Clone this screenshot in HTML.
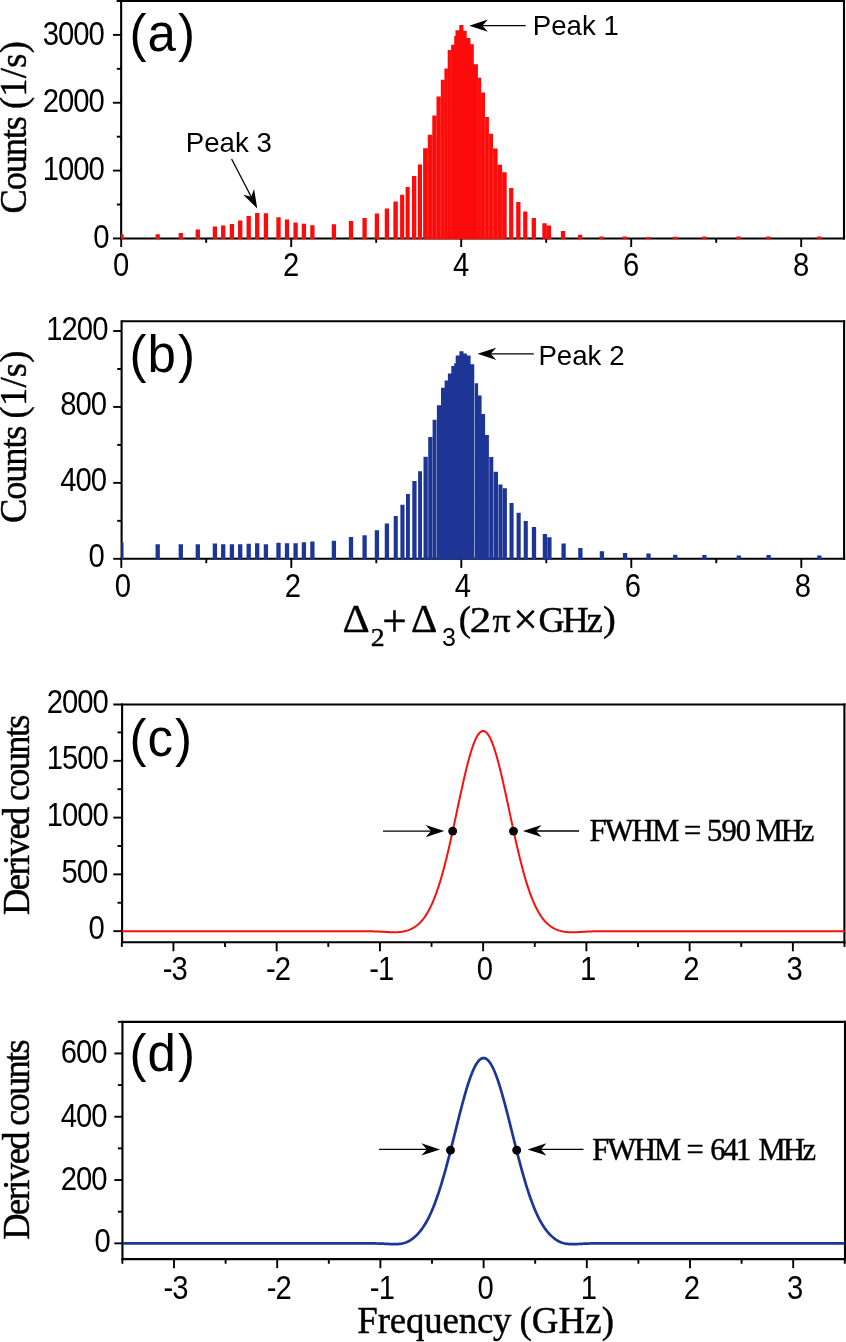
<!DOCTYPE html>
<html lang="en"><head><meta charset="utf-8"><title>Figure: counts vs detuning and derived lineshapes</title>
<style>
html,body{margin:0;padding:0;background:#fff;}
body{width:846px;height:1342px;overflow:hidden;font-family:"Liberation Sans", sans-serif;}
svg text{white-space:pre;}
</style></head>
<body>
<svg width="846" height="1342" viewBox="0 0 846 1342" style="display:block;will-change:transform">
<g id="panel-a">
<line x1="121.15" y1="-0.15" x2="121.15" y2="239.50" stroke="#000" stroke-width="2.1" stroke-linecap="butt"/>
<line x1="844.00" y1="-0.15" x2="844.00" y2="239.50" stroke="#000" stroke-width="2.1" stroke-linecap="butt"/>
<line x1="116.65" y1="0.90" x2="845.05" y2="0.90" stroke="#000" stroke-width="2.1" stroke-linecap="butt"/>
<line x1="120.10" y1="238.45" x2="845.05" y2="238.45" stroke="#000" stroke-width="2.1" stroke-linecap="butt"/>
<line x1="112.95" y1="238.45" x2="121.15" y2="238.45" stroke="#000" stroke-width="1.9" stroke-linecap="butt"/>
<line x1="112.95" y1="170.60" x2="121.15" y2="170.60" stroke="#000" stroke-width="1.9" stroke-linecap="butt"/>
<line x1="112.95" y1="102.75" x2="121.15" y2="102.75" stroke="#000" stroke-width="1.9" stroke-linecap="butt"/>
<line x1="112.95" y1="34.90" x2="121.15" y2="34.90" stroke="#000" stroke-width="1.9" stroke-linecap="butt"/>
<line x1="116.85" y1="204.52" x2="121.15" y2="204.52" stroke="#000" stroke-width="1.9" stroke-linecap="butt"/>
<line x1="116.85" y1="136.68" x2="121.15" y2="136.68" stroke="#000" stroke-width="1.9" stroke-linecap="butt"/>
<line x1="116.85" y1="68.83" x2="121.15" y2="68.83" stroke="#000" stroke-width="1.9" stroke-linecap="butt"/>
<line x1="121.20" y1="238.45" x2="121.20" y2="247.05" stroke="#000" stroke-width="1.9" stroke-linecap="butt"/>
<line x1="291.20" y1="238.45" x2="291.20" y2="247.05" stroke="#000" stroke-width="1.9" stroke-linecap="butt"/>
<line x1="461.20" y1="238.45" x2="461.20" y2="247.05" stroke="#000" stroke-width="1.9" stroke-linecap="butt"/>
<line x1="631.20" y1="238.45" x2="631.20" y2="247.05" stroke="#000" stroke-width="1.9" stroke-linecap="butt"/>
<line x1="801.20" y1="238.45" x2="801.20" y2="247.05" stroke="#000" stroke-width="1.9" stroke-linecap="butt"/>
<line x1="206.20" y1="238.45" x2="206.20" y2="242.85" stroke="#000" stroke-width="1.9" stroke-linecap="butt"/>
<line x1="376.20" y1="238.45" x2="376.20" y2="242.85" stroke="#000" stroke-width="1.9" stroke-linecap="butt"/>
<line x1="546.20" y1="238.45" x2="546.20" y2="242.85" stroke="#000" stroke-width="1.9" stroke-linecap="butt"/>
<line x1="716.20" y1="238.45" x2="716.20" y2="242.85" stroke="#000" stroke-width="1.9" stroke-linecap="butt"/>
<path d="M120.80,239.30 L120.80,234.30 L123.55,234.30 L123.55,239.30Z M155.55,239.30 L155.55,234.30 L159.85,234.30 L159.85,239.30Z M178.65,239.30 L178.65,233.00 L182.95,233.00 L182.95,239.30Z M195.65,239.30 L195.65,229.60 L199.95,229.60 L199.95,239.30Z M212.75,239.30 L212.75,226.40 L217.05,226.40 L217.05,239.30Z M221.05,239.30 L221.05,225.40 L225.35,225.40 L225.35,239.30Z M229.75,239.30 L229.75,223.90 L234.05,223.90 L234.05,239.30Z M238.05,239.30 L238.05,220.50 L242.35,220.50 L242.35,239.30Z M246.55,239.30 L246.55,216.10 L250.85,216.10 L250.85,239.30Z M255.05,239.30 L255.05,213.10 L259.35,213.10 L259.35,239.30Z M263.75,239.30 L263.75,213.20 L268.05,213.20 L268.05,239.30Z M276.35,239.30 L276.35,217.20 L280.65,217.20 L280.65,239.30Z M284.85,239.30 L284.85,219.60 L289.15,219.60 L289.15,239.30Z M293.45,239.30 L293.45,222.60 L297.75,222.60 L297.75,239.30Z M301.75,239.30 L301.75,223.80 L306.05,223.80 L306.05,239.30Z M310.25,239.30 L310.25,225.30 L314.55,225.30 L314.55,239.30Z M331.75,239.30 L331.75,224.20 L336.05,224.20 L336.05,239.30Z M348.85,239.30 L348.85,220.90 L353.15,220.90 L353.15,239.30Z M362.45,239.30 L362.45,217.90 L366.75,217.90 L366.75,239.30Z M374.75,239.30 L374.75,213.60 L379.05,213.60 L379.05,239.30Z M384.75,239.30 L384.75,208.50 L389.05,208.50 L389.05,239.30Z M393.40,239.30 L393.40,201.50 L397.80,201.50 L397.80,239.30Z M400.10,239.30 L400.10,194.80 L404.20,194.80 L404.20,239.30Z M405.60,239.30 L405.60,186.90 L409.70,186.90 L409.70,239.30Z M412.00,239.30 L412.00,176.00 L416.30,176.00 L416.30,239.30Z M417.90,239.30 L417.90,164.60 L422.00,164.60 L422.00,239.30Z M423.10,239.30 L423.10,148.20 L427.80,148.20 L427.80,134.80 L432.30,134.80 L432.30,115.40 L436.50,115.40 L436.50,96.40 L440.80,96.40 L440.80,79.70 L444.40,79.70 L444.40,68.50 L447.70,68.50 L447.70,49.90 L451.10,49.90 L451.10,44.70 L454.20,44.70 L454.20,35.90 L455.50,35.90 L455.50,30.30 L459.30,30.30 L459.30,25.10 L463.40,25.10 L463.40,30.70 L466.70,30.70 L466.70,38.00 L470.40,38.00 L470.40,44.30 L473.80,44.30 L473.80,64.20 L477.90,64.20 L477.90,77.80 L481.20,77.80 L481.20,92.50 L485.00,92.50 L485.00,116.90 L488.90,116.90 L488.90,133.70 L493.00,133.70 L493.00,148.40 L497.60,148.40 L497.60,164.80 L502.10,164.80 L502.10,172.20 L506.70,172.20 L506.70,239.30Z M509.10,239.30 L509.10,188.00 L513.30,188.00 L513.30,239.30Z M516.20,239.30 L516.20,202.00 L520.50,202.00 L520.50,239.30Z M523.20,239.30 L523.20,211.40 L527.40,211.40 L527.40,239.30Z M531.65,239.30 L531.65,218.10 L535.95,218.10 L535.95,239.30Z M542.35,239.30 L542.35,223.20 L546.65,223.20 L546.65,239.30Z M546.75,239.30 L546.75,225.50 L551.05,225.50 L551.05,239.30Z M560.85,239.30 L560.85,230.90 L565.15,230.90 L565.15,239.30Z M578.05,239.30 L578.05,234.70 L582.35,234.70 L582.35,239.30Z M599.35,239.30 L599.35,236.40 L603.65,236.40 L603.65,239.30Z M622.55,239.30 L622.55,236.60 L626.85,236.60 L626.85,239.30Z M646.15,239.30 L646.15,237.00 L650.45,237.00 L650.45,239.30Z M672.75,239.30 L672.75,236.80 L677.05,236.80 L677.05,239.30Z M702.15,239.30 L702.15,236.60 L706.45,236.60 L706.45,239.30Z M736.45,239.30 L736.45,236.40 L740.75,236.40 L740.75,239.30Z M766.15,239.30 L766.15,236.40 L770.45,236.40 L770.45,239.30Z M817.05,239.30 L817.05,236.60 L821.35,236.60 L821.35,239.30Z" fill="#fc0b0b"/>
<line x1="427.80" y1="148.20" x2="427.80" y2="237.45" stroke="#fff" stroke-opacity="0.32" stroke-width="0.55"/>
<line x1="432.30" y1="134.80" x2="432.30" y2="237.45" stroke="#fff" stroke-opacity="0.32" stroke-width="0.55"/>
<line x1="436.50" y1="115.40" x2="436.50" y2="237.45" stroke="#fff" stroke-opacity="0.32" stroke-width="0.55"/>
<line x1="440.80" y1="96.40" x2="440.80" y2="237.45" stroke="#fff" stroke-opacity="0.32" stroke-width="0.55"/>
<line x1="485.00" y1="116.90" x2="485.00" y2="237.45" stroke="#fff" stroke-opacity="0.32" stroke-width="0.55"/>
<line x1="488.90" y1="133.70" x2="488.90" y2="237.45" stroke="#fff" stroke-opacity="0.32" stroke-width="0.55"/>
<line x1="493.00" y1="148.40" x2="493.00" y2="237.45" stroke="#fff" stroke-opacity="0.32" stroke-width="0.55"/>
<line x1="497.60" y1="164.80" x2="497.60" y2="237.45" stroke="#fff" stroke-opacity="0.32" stroke-width="0.55"/>
<line x1="502.10" y1="172.20" x2="502.10" y2="237.45" stroke="#fff" stroke-opacity="0.32" stroke-width="0.55"/>
<line x1="444.40" y1="79.70" x2="444.40" y2="237.45" stroke="#fff" stroke-opacity="0.16" stroke-width="0.55"/>
<line x1="447.70" y1="68.50" x2="447.70" y2="237.45" stroke="#fff" stroke-opacity="0.16" stroke-width="0.55"/>
<line x1="451.10" y1="49.90" x2="451.10" y2="237.45" stroke="#fff" stroke-opacity="0.16" stroke-width="0.55"/>
<line x1="477.90" y1="77.80" x2="477.90" y2="237.45" stroke="#fff" stroke-opacity="0.16" stroke-width="0.55"/>
<line x1="481.20" y1="92.50" x2="481.20" y2="237.45" stroke="#fff" stroke-opacity="0.16" stroke-width="0.55"/>
</g>
<g id="panel-b">
<line x1="121.60" y1="320.25" x2="121.60" y2="559.85" stroke="#000" stroke-width="2.1" stroke-linecap="butt"/>
<line x1="844.10" y1="320.25" x2="844.10" y2="559.85" stroke="#000" stroke-width="2.1" stroke-linecap="butt"/>
<line x1="121.60" y1="321.30" x2="845.15" y2="321.30" stroke="#000" stroke-width="2.1" stroke-linecap="butt"/>
<line x1="120.55" y1="558.80" x2="845.15" y2="558.80" stroke="#000" stroke-width="2.1" stroke-linecap="butt"/>
<line x1="113.20" y1="558.80" x2="121.60" y2="558.80" stroke="#000" stroke-width="1.9" stroke-linecap="butt"/>
<line x1="113.20" y1="482.87" x2="121.60" y2="482.87" stroke="#000" stroke-width="1.9" stroke-linecap="butt"/>
<line x1="113.20" y1="406.93" x2="121.60" y2="406.93" stroke="#000" stroke-width="1.9" stroke-linecap="butt"/>
<line x1="113.20" y1="331.00" x2="121.60" y2="331.00" stroke="#000" stroke-width="1.9" stroke-linecap="butt"/>
<line x1="117.20" y1="520.83" x2="121.60" y2="520.83" stroke="#000" stroke-width="1.9" stroke-linecap="butt"/>
<line x1="117.20" y1="444.90" x2="121.60" y2="444.90" stroke="#000" stroke-width="1.9" stroke-linecap="butt"/>
<line x1="117.20" y1="368.97" x2="121.60" y2="368.97" stroke="#000" stroke-width="1.9" stroke-linecap="butt"/>
<line x1="121.30" y1="558.80" x2="121.30" y2="567.90" stroke="#000" stroke-width="1.9" stroke-linecap="butt"/>
<line x1="291.30" y1="558.80" x2="291.30" y2="567.90" stroke="#000" stroke-width="1.9" stroke-linecap="butt"/>
<line x1="461.30" y1="558.80" x2="461.30" y2="567.90" stroke="#000" stroke-width="1.9" stroke-linecap="butt"/>
<line x1="631.30" y1="558.80" x2="631.30" y2="567.90" stroke="#000" stroke-width="1.9" stroke-linecap="butt"/>
<line x1="801.30" y1="558.80" x2="801.30" y2="567.90" stroke="#000" stroke-width="1.9" stroke-linecap="butt"/>
<line x1="206.30" y1="558.80" x2="206.30" y2="563.20" stroke="#000" stroke-width="1.9" stroke-linecap="butt"/>
<line x1="376.30" y1="558.80" x2="376.30" y2="563.20" stroke="#000" stroke-width="1.9" stroke-linecap="butt"/>
<line x1="546.30" y1="558.80" x2="546.30" y2="563.20" stroke="#000" stroke-width="1.9" stroke-linecap="butt"/>
<line x1="716.30" y1="558.80" x2="716.30" y2="563.20" stroke="#000" stroke-width="1.9" stroke-linecap="butt"/>
<path d="M121.25,559.65 L121.25,542.40 L123.55,542.40 L123.55,559.65Z M155.55,559.65 L155.55,544.30 L159.85,544.30 L159.85,559.65Z M178.65,559.65 L178.65,544.30 L182.95,544.30 L182.95,559.65Z M195.65,559.65 L195.65,544.30 L199.95,544.30 L199.95,559.65Z M212.75,559.65 L212.75,543.50 L217.05,543.50 L217.05,559.65Z M221.05,559.65 L221.05,544.30 L225.35,544.30 L225.35,559.65Z M229.75,559.65 L229.75,544.30 L234.05,544.30 L234.05,559.65Z M238.05,559.65 L238.05,544.30 L242.35,544.30 L242.35,559.65Z M246.55,559.65 L246.55,543.70 L250.85,543.70 L250.85,559.65Z M255.05,559.65 L255.05,543.30 L259.35,543.30 L259.35,559.65Z M263.75,559.65 L263.75,544.20 L268.05,544.20 L268.05,559.65Z M276.35,559.65 L276.35,542.80 L280.65,542.80 L280.65,559.65Z M284.85,559.65 L284.85,543.20 L289.15,543.20 L289.15,559.65Z M293.45,559.65 L293.45,543.20 L297.75,543.20 L297.75,559.65Z M301.75,559.65 L301.75,542.30 L306.05,542.30 L306.05,559.65Z M310.25,559.65 L310.25,541.50 L314.55,541.50 L314.55,559.65Z M331.75,559.65 L331.75,540.80 L336.05,540.80 L336.05,559.65Z M348.85,559.65 L348.85,537.00 L353.15,537.00 L353.15,559.65Z M362.45,559.65 L362.45,535.30 L366.75,535.30 L366.75,559.65Z M374.75,559.65 L374.75,530.20 L379.05,530.20 L379.05,559.65Z M384.75,559.65 L384.75,523.40 L389.05,523.40 L389.05,559.65Z M393.70,559.65 L393.70,515.90 L397.80,515.90 L397.80,559.65Z M400.40,559.65 L400.40,504.70 L404.50,504.70 L404.50,559.65Z M406.00,559.65 L406.00,493.90 L409.90,493.90 L409.90,559.65Z M412.30,559.65 L412.30,481.00 L416.60,481.00 L416.60,559.65Z M418.10,559.65 L418.10,471.20 L422.00,471.20 L422.00,559.65Z M423.50,559.65 L423.50,456.80 L427.80,456.80 L427.80,559.65Z M428.20,559.65 L428.20,436.90 L432.30,436.90 L432.30,559.65Z M432.60,559.65 L432.60,419.80 L436.50,419.80 L436.50,559.65Z M436.90,559.65 L436.90,405.30 L441.00,405.30 L441.00,387.80 L444.60,387.80 L444.60,380.50 L447.90,380.50 L447.90,373.40 L451.30,373.40 L451.30,366.00 L454.20,366.00 L454.20,363.20 L455.70,363.20 L455.70,355.40 L459.40,355.40 L459.40,351.30 L463.50,351.30 L463.50,353.50 L466.90,353.50 L466.90,355.40 L470.60,355.40 L470.60,364.30 L474.25,364.30 L474.25,559.65Z M474.75,559.65 L474.75,383.30 L478.10,383.30 L478.10,395.40 L481.60,395.40 L481.60,414.00 L485.10,414.00 L485.10,435.10 L488.90,435.10 L488.90,559.65Z M489.20,559.65 L489.20,457.00 L493.30,457.00 L493.30,559.65Z M493.70,559.65 L493.70,471.70 L498.00,471.70 L498.00,559.65Z M498.40,559.65 L498.40,484.60 L502.50,484.60 L502.50,559.65Z M502.80,559.65 L502.80,488.30 L506.90,488.30 L506.90,559.65Z M509.50,559.65 L509.50,503.00 L513.60,503.00 L513.60,559.65Z M516.60,559.65 L516.60,512.70 L520.70,512.70 L520.70,559.65Z M523.70,559.65 L523.70,521.10 L527.80,521.10 L527.80,559.65Z M531.85,559.65 L531.85,527.00 L536.15,527.00 L536.15,559.65Z M542.75,559.65 L542.75,534.00 L547.05,534.00 L547.05,559.65Z M547.25,559.65 L547.25,537.20 L551.55,537.20 L551.55,559.65Z M561.45,559.65 L561.45,543.60 L565.75,543.60 L565.75,559.65Z M578.25,559.65 L578.25,548.10 L582.55,548.10 L582.55,559.65Z M599.75,559.65 L599.75,551.30 L604.05,551.30 L604.05,559.65Z M622.95,559.65 L622.95,553.00 L627.25,553.00 L627.25,559.65Z M646.35,559.65 L646.35,553.60 L650.65,553.60 L650.65,559.65Z M673.15,559.65 L673.15,554.70 L677.45,554.70 L677.45,559.65Z M702.25,559.65 L702.25,555.10 L706.55,555.10 L706.55,559.65Z M736.65,559.65 L736.65,555.50 L740.95,555.50 L740.95,559.65Z M766.45,559.65 L766.45,555.10 L770.75,555.10 L770.75,559.65Z M817.15,559.65 L817.15,555.50 L821.45,555.50 L821.45,559.65Z" fill="#1d3595"/>
</g>
<g id="panel-c">
<line x1="122.10" y1="703.50" x2="122.10" y2="943.35" stroke="#000" stroke-width="2.1" stroke-linecap="butt"/>
<line x1="844.40" y1="703.50" x2="844.40" y2="943.35" stroke="#000" stroke-width="2.1" stroke-linecap="butt"/>
<line x1="113.30" y1="704.55" x2="845.45" y2="704.55" stroke="#000" stroke-width="2.1" stroke-linecap="butt"/>
<line x1="121.05" y1="942.30" x2="845.45" y2="942.30" stroke="#000" stroke-width="2.1" stroke-linecap="butt"/>
<path d="M121.81,931.15 L122.61,931.15 L123.42,931.15 L124.22,931.15 L125.02,931.15 L125.82,931.15 L126.63,931.15 L127.43,931.15 L128.23,931.15 L129.04,931.15 L129.84,931.15 L130.64,931.15 L131.45,931.15 L132.25,931.15 L133.05,931.15 L133.85,931.15 L134.66,931.15 L135.46,931.15 L136.26,931.15 L137.07,931.15 L137.87,931.15 L138.67,931.15 L139.48,931.15 L140.28,931.15 L141.08,931.15 L141.88,931.15 L142.69,931.15 L143.49,931.15 L144.29,931.15 L145.10,931.15 L145.90,931.15 L146.70,931.15 L147.51,931.15 L148.31,931.15 L149.11,931.15 L149.91,931.15 L150.72,931.15 L151.52,931.15 L152.32,931.15 L153.13,931.15 L153.93,931.15 L154.73,931.15 L155.54,931.15 L156.34,931.15 L157.14,931.15 L157.94,931.15 L158.75,931.15 L159.55,931.15 L160.35,931.15 L161.16,931.15 L161.96,931.15 L162.76,931.15 L163.56,931.15 L164.37,931.15 L165.17,931.15 L165.97,931.15 L166.78,931.15 L167.58,931.15 L168.38,931.15 L169.19,931.15 L169.99,931.15 L170.79,931.15 L171.59,931.15 L172.40,931.15 L173.20,931.15 L174.00,931.15 L174.81,931.15 L175.61,931.15 L176.41,931.15 L177.22,931.15 L178.02,931.15 L178.82,931.15 L179.62,931.15 L180.43,931.15 L181.23,931.15 L182.03,931.15 L182.84,931.15 L183.64,931.15 L184.44,931.15 L185.25,931.15 L186.05,931.15 L186.85,931.15 L187.65,931.15 L188.46,931.15 L189.26,931.15 L190.06,931.15 L190.87,931.15 L191.67,931.15 L192.47,931.15 L193.28,931.15 L194.08,931.15 L194.88,931.15 L195.68,931.15 L196.49,931.15 L197.29,931.15 L198.09,931.15 L198.90,931.15 L199.70,931.15 L200.50,931.15 L201.30,931.15 L202.11,931.15 L202.91,931.15 L203.71,931.15 L204.52,931.15 L205.32,931.15 L206.12,931.15 L206.93,931.15 L207.73,931.15 L208.53,931.15 L209.33,931.15 L210.14,931.15 L210.94,931.15 L211.74,931.15 L212.55,931.15 L213.35,931.15 L214.15,931.15 L214.96,931.15 L215.76,931.15 L216.56,931.15 L217.36,931.15 L218.17,931.15 L218.97,931.15 L219.77,931.15 L220.58,931.15 L221.38,931.15 L222.18,931.15 L222.99,931.15 L223.79,931.15 L224.59,931.15 L225.39,931.15 L226.20,931.15 L227.00,931.15 L227.80,931.15 L228.61,931.15 L229.41,931.15 L230.21,931.15 L231.01,931.15 L231.82,931.15 L232.62,931.15 L233.42,931.15 L234.23,931.15 L235.03,931.15 L235.83,931.15 L236.64,931.15 L237.44,931.15 L238.24,931.15 L239.04,931.15 L239.85,931.15 L240.65,931.15 L241.45,931.15 L242.26,931.15 L243.06,931.15 L243.86,931.15 L244.67,931.15 L245.47,931.15 L246.27,931.15 L247.07,931.15 L247.88,931.15 L248.68,931.15 L249.48,931.15 L250.29,931.15 L251.09,931.15 L251.89,931.15 L252.70,931.15 L253.50,931.15 L254.30,931.15 L255.10,931.15 L255.91,931.15 L256.71,931.15 L257.51,931.15 L258.32,931.15 L259.12,931.15 L259.92,931.15 L260.73,931.15 L261.53,931.15 L262.33,931.15 L263.13,931.15 L263.94,931.15 L264.74,931.15 L265.54,931.15 L266.35,931.15 L267.15,931.15 L267.95,931.15 L268.75,931.15 L269.56,931.15 L270.36,931.15 L271.16,931.15 L271.97,931.15 L272.77,931.15 L273.57,931.15 L274.38,931.15 L275.18,931.15 L275.98,931.15 L276.78,931.15 L277.59,931.15 L278.39,931.15 L279.19,931.15 L280.00,931.15 L280.80,931.15 L281.60,931.15 L282.41,931.15 L283.21,931.15 L284.01,931.15 L284.81,931.15 L285.62,931.15 L286.42,931.15 L287.22,931.15 L288.03,931.15 L288.83,931.15 L289.63,931.15 L290.44,931.15 L291.24,931.15 L292.04,931.15 L292.84,931.15 L293.65,931.15 L294.45,931.15 L295.25,931.15 L296.06,931.15 L296.86,931.15 L297.66,931.15 L298.47,931.15 L299.27,931.15 L300.07,931.15 L300.87,931.15 L301.68,931.15 L302.48,931.15 L303.28,931.15 L304.09,931.15 L304.89,931.15 L305.69,931.15 L306.49,931.15 L307.30,931.15 L308.10,931.15 L308.90,931.15 L309.71,931.15 L310.51,931.15 L311.31,931.15 L312.12,931.15 L312.92,931.15 L313.72,931.15 L314.52,931.15 L315.33,931.15 L316.13,931.15 L316.93,931.15 L317.74,931.15 L318.54,931.15 L319.34,931.15 L320.15,931.15 L320.95,931.15 L321.75,931.15 L322.55,931.15 L323.36,931.15 L324.16,931.15 L324.96,931.15 L325.77,931.15 L326.57,931.15 L327.37,931.15 L328.18,931.15 L328.98,931.15 L329.78,931.15 L330.58,931.15 L331.39,931.15 L332.19,931.15 L332.99,931.15 L333.80,931.15 L334.60,931.15 L335.40,931.15 L336.21,931.15 L337.01,931.15 L337.81,931.15 L338.61,931.15 L339.42,931.15 L340.22,931.15 L341.02,931.15 L341.83,931.15 L342.63,931.15 L343.43,931.15 L344.23,931.15 L345.04,931.15 L345.84,931.15 L346.64,931.15 L347.45,931.15 L348.25,931.15 L349.05,931.15 L349.86,931.15 L350.66,931.15 L351.46,931.15 L352.26,931.16 L353.07,931.16 L353.87,931.16 L354.67,931.16 L355.48,931.16 L356.28,931.16 L357.08,931.16 L357.89,931.17 L358.69,931.17 L359.49,931.17 L360.29,931.18 L361.10,931.18 L361.90,931.19 L362.70,931.19 L363.51,931.20 L364.31,931.21 L365.11,931.22 L365.92,931.23 L366.72,931.24 L367.52,931.25 L368.32,931.26 L369.13,931.27 L369.93,931.29 L370.73,931.31 L371.54,931.33 L372.34,931.35 L373.14,931.37 L373.95,931.40 L374.75,931.42 L375.55,931.45 L376.35,931.48 L377.16,931.51 L377.96,931.55 L378.76,931.58 L379.57,931.62 L380.37,931.66 L381.17,931.70 L381.97,931.74 L382.78,931.79 L383.58,931.83 L384.38,931.87 L385.19,931.92 L385.99,931.96 L386.79,932.01 L387.60,932.05 L388.40,932.09 L389.20,932.13 L390.00,932.16 L390.81,932.20 L391.61,932.22 L392.41,932.24 L393.22,932.26 L394.02,932.27 L394.82,932.27 L395.63,932.26 L396.43,932.24 L397.23,932.21 L398.03,932.17 L398.84,932.12 L399.64,932.05 L400.44,931.97 L401.25,931.87 L402.05,931.75 L402.85,931.61 L403.66,931.46 L404.46,931.28 L405.26,931.08 L406.06,930.86 L406.87,930.61 L407.67,930.35 L408.47,930.07 L409.28,929.76 L410.08,929.43 L410.88,929.07 L411.68,928.68 L412.49,928.27 L413.29,927.82 L414.09,927.35 L414.90,926.83 L415.70,926.28 L416.50,925.69 L417.31,925.07 L418.11,924.39 L418.91,923.68 L419.71,922.92 L420.52,922.10 L421.32,921.24 L422.12,920.32 L422.93,919.35 L423.73,918.32 L424.53,917.23 L425.34,916.08 L426.14,914.86 L426.94,913.58 L427.74,912.23 L428.55,910.81 L429.35,909.31 L430.15,907.75 L430.96,906.10 L431.76,904.38 L432.56,902.57 L433.37,900.69 L434.17,898.73 L434.97,896.68 L435.77,894.55 L436.58,892.33 L437.38,890.03 L438.18,887.64 L438.99,885.16 L439.79,882.60 L440.59,879.96 L441.40,877.23 L442.20,874.42 L443.00,871.53 L443.80,868.55 L444.61,865.50 L445.41,862.37 L446.21,859.17 L447.02,855.89 L447.82,852.55 L448.62,849.15 L449.42,845.68 L450.23,842.16 L451.03,838.59 L451.83,834.97 L452.64,831.31 L453.44,827.61 L454.24,823.89 L455.05,820.14 L455.85,816.37 L456.65,812.59 L457.45,808.81 L458.26,805.03 L459.06,801.27 L459.86,797.52 L460.67,793.80 L461.47,790.11 L462.27,786.46 L463.08,782.87 L463.88,779.33 L464.68,775.86 L465.48,772.46 L466.29,769.14 L467.09,765.92 L467.89,762.79 L468.70,759.77 L469.50,756.87 L470.30,754.08 L471.11,751.43 L471.91,748.91 L472.71,746.53 L473.51,744.30 L474.32,742.23 L475.12,740.32 L475.92,738.57 L476.73,736.99 L477.53,735.59 L478.33,734.37 L479.14,733.33 L479.94,732.47 L480.74,731.81 L481.54,731.33 L482.35,731.04 L483.15,730.94 L483.95,731.04 L484.76,731.33 L485.56,731.81 L486.36,732.47 L487.16,733.33 L487.97,734.37 L488.77,735.59 L489.57,736.99 L490.38,738.57 L491.18,740.32 L491.98,742.23 L492.79,744.30 L493.59,746.53 L494.39,748.91 L495.19,751.43 L496.00,754.08 L496.80,756.87 L497.60,759.77 L498.41,762.79 L499.21,765.92 L500.01,769.14 L500.82,772.46 L501.62,775.86 L502.42,779.33 L503.22,782.87 L504.03,786.46 L504.83,790.11 L505.63,793.80 L506.44,797.52 L507.24,801.27 L508.04,805.03 L508.85,808.81 L509.65,812.59 L510.45,816.37 L511.25,820.14 L512.06,823.89 L512.86,827.61 L513.66,831.31 L514.47,834.97 L515.27,838.59 L516.07,842.16 L516.88,845.68 L517.68,849.15 L518.48,852.55 L519.28,855.89 L520.09,859.17 L520.89,862.37 L521.69,865.50 L522.50,868.55 L523.30,871.53 L524.10,874.42 L524.90,877.23 L525.71,879.96 L526.51,882.60 L527.31,885.16 L528.12,887.64 L528.92,890.03 L529.72,892.33 L530.53,894.55 L531.33,896.68 L532.13,898.73 L532.93,900.69 L533.74,902.57 L534.54,904.38 L535.34,906.10 L536.15,907.75 L536.95,909.31 L537.75,910.81 L538.56,912.23 L539.36,913.58 L540.16,914.86 L540.96,916.08 L541.77,917.23 L542.57,918.32 L543.37,919.35 L544.18,920.32 L544.98,921.24 L545.78,922.10 L546.59,922.92 L547.39,923.68 L548.19,924.39 L548.99,925.07 L549.80,925.69 L550.60,926.28 L551.40,926.83 L552.21,927.35 L553.01,927.82 L553.81,928.27 L554.62,928.68 L555.42,929.07 L556.22,929.43 L557.02,929.76 L557.83,930.07 L558.63,930.35 L559.43,930.61 L560.24,930.86 L561.04,931.08 L561.84,931.28 L562.64,931.46 L563.45,931.61 L564.25,931.75 L565.05,931.87 L565.86,931.97 L566.66,932.05 L567.46,932.12 L568.27,932.17 L569.07,932.21 L569.87,932.24 L570.67,932.26 L571.48,932.27 L572.28,932.27 L573.08,932.26 L573.89,932.24 L574.69,932.22 L575.49,932.20 L576.30,932.16 L577.10,932.13 L577.90,932.09 L578.70,932.05 L579.51,932.01 L580.31,931.96 L581.11,931.92 L581.92,931.87 L582.72,931.83 L583.52,931.79 L584.33,931.74 L585.13,931.70 L585.93,931.66 L586.73,931.62 L587.54,931.58 L588.34,931.55 L589.14,931.51 L589.95,931.48 L590.75,931.45 L591.55,931.42 L592.35,931.40 L593.16,931.37 L593.96,931.35 L594.76,931.33 L595.57,931.31 L596.37,931.29 L597.17,931.27 L597.98,931.26 L598.78,931.25 L599.58,931.24 L600.38,931.23 L601.19,931.22 L601.99,931.21 L602.79,931.20 L603.60,931.19 L604.40,931.19 L605.20,931.18 L606.01,931.18 L606.81,931.17 L607.61,931.17 L608.41,931.17 L609.22,931.16 L610.02,931.16 L610.82,931.16 L611.63,931.16 L612.43,931.16 L613.23,931.16 L614.04,931.16 L614.84,931.15 L615.64,931.15 L616.44,931.15 L617.25,931.15 L618.05,931.15 L618.85,931.15 L619.66,931.15 L620.46,931.15 L621.26,931.15 L622.07,931.15 L622.87,931.15 L623.67,931.15 L624.47,931.15 L625.28,931.15 L626.08,931.15 L626.88,931.15 L627.69,931.15 L628.49,931.15 L629.29,931.15 L630.09,931.15 L630.90,931.15 L631.70,931.15 L632.50,931.15 L633.31,931.15 L634.11,931.15 L634.91,931.15 L635.72,931.15 L636.52,931.15 L637.32,931.15 L638.12,931.15 L638.93,931.15 L639.73,931.15 L640.53,931.15 L641.34,931.15 L642.14,931.15 L642.94,931.15 L643.75,931.15 L644.55,931.15 L645.35,931.15 L646.15,931.15 L646.96,931.15 L647.76,931.15 L648.56,931.15 L649.37,931.15 L650.17,931.15 L650.97,931.15 L651.78,931.15 L652.58,931.15 L653.38,931.15 L654.18,931.15 L654.99,931.15 L655.79,931.15 L656.59,931.15 L657.40,931.15 L658.20,931.15 L659.00,931.15 L659.81,931.15 L660.61,931.15 L661.41,931.15 L662.21,931.15 L663.02,931.15 L663.82,931.15 L664.62,931.15 L665.43,931.15 L666.23,931.15 L667.03,931.15 L667.83,931.15 L668.64,931.15 L669.44,931.15 L670.24,931.15 L671.05,931.15 L671.85,931.15 L672.65,931.15 L673.46,931.15 L674.26,931.15 L675.06,931.15 L675.86,931.15 L676.67,931.15 L677.47,931.15 L678.27,931.15 L679.08,931.15 L679.88,931.15 L680.68,931.15 L681.49,931.15 L682.29,931.15 L683.09,931.15 L683.89,931.15 L684.70,931.15 L685.50,931.15 L686.30,931.15 L687.11,931.15 L687.91,931.15 L688.71,931.15 L689.52,931.15 L690.32,931.15 L691.12,931.15 L691.92,931.15 L692.73,931.15 L693.53,931.15 L694.33,931.15 L695.14,931.15 L695.94,931.15 L696.74,931.15 L697.55,931.15 L698.35,931.15 L699.15,931.15 L699.95,931.15 L700.76,931.15 L701.56,931.15 L702.36,931.15 L703.17,931.15 L703.97,931.15 L704.77,931.15 L705.57,931.15 L706.38,931.15 L707.18,931.15 L707.98,931.15 L708.79,931.15 L709.59,931.15 L710.39,931.15 L711.20,931.15 L712.00,931.15 L712.80,931.15 L713.60,931.15 L714.41,931.15 L715.21,931.15 L716.01,931.15 L716.82,931.15 L717.62,931.15 L718.42,931.15 L719.23,931.15 L720.03,931.15 L720.83,931.15 L721.63,931.15 L722.44,931.15 L723.24,931.15 L724.04,931.15 L724.85,931.15 L725.65,931.15 L726.45,931.15 L727.26,931.15 L728.06,931.15 L728.86,931.15 L729.66,931.15 L730.47,931.15 L731.27,931.15 L732.07,931.15 L732.88,931.15 L733.68,931.15 L734.48,931.15 L735.29,931.15 L736.09,931.15 L736.89,931.15 L737.69,931.15 L738.50,931.15 L739.30,931.15 L740.10,931.15 L740.91,931.15 L741.71,931.15 L742.51,931.15 L743.31,931.15 L744.12,931.15 L744.92,931.15 L745.72,931.15 L746.53,931.15 L747.33,931.15 L748.13,931.15 L748.94,931.15 L749.74,931.15 L750.54,931.15 L751.34,931.15 L752.15,931.15 L752.95,931.15 L753.75,931.15 L754.56,931.15 L755.36,931.15 L756.16,931.15 L756.97,931.15 L757.77,931.15 L758.57,931.15 L759.37,931.15 L760.18,931.15 L760.98,931.15 L761.78,931.15 L762.59,931.15 L763.39,931.15 L764.19,931.15 L765.00,931.15 L765.80,931.15 L766.60,931.15 L767.40,931.15 L768.21,931.15 L769.01,931.15 L769.81,931.15 L770.62,931.15 L771.42,931.15 L772.22,931.15 L773.02,931.15 L773.83,931.15 L774.63,931.15 L775.43,931.15 L776.24,931.15 L777.04,931.15 L777.84,931.15 L778.65,931.15 L779.45,931.15 L780.25,931.15 L781.05,931.15 L781.86,931.15 L782.66,931.15 L783.46,931.15 L784.27,931.15 L785.07,931.15 L785.87,931.15 L786.68,931.15 L787.48,931.15 L788.28,931.15 L789.08,931.15 L789.89,931.15 L790.69,931.15 L791.49,931.15 L792.30,931.15 L793.10,931.15 L793.90,931.15 L794.71,931.15 L795.51,931.15 L796.31,931.15 L797.11,931.15 L797.92,931.15 L798.72,931.15 L799.52,931.15 L800.33,931.15 L801.13,931.15 L801.93,931.15 L802.74,931.15 L803.54,931.15 L804.34,931.15 L805.14,931.15 L805.95,931.15 L806.75,931.15 L807.55,931.15 L808.36,931.15 L809.16,931.15 L809.96,931.15 L810.76,931.15 L811.57,931.15 L812.37,931.15 L813.17,931.15 L813.98,931.15 L814.78,931.15 L815.58,931.15 L816.39,931.15 L817.19,931.15 L817.99,931.15 L818.79,931.15 L819.60,931.15 L820.40,931.15 L821.20,931.15 L822.01,931.15 L822.81,931.15 L823.61,931.15 L824.42,931.15 L825.22,931.15 L826.02,931.15 L826.82,931.15 L827.63,931.15 L828.43,931.15 L829.23,931.15 L830.04,931.15 L830.84,931.15 L831.64,931.15 L832.45,931.15 L833.25,931.15 L834.05,931.15 L834.85,931.15 L835.66,931.15 L836.46,931.15 L837.26,931.15 L838.07,931.15 L838.87,931.15 L839.67,931.15 L840.48,931.15 L841.28,931.15 L842.08,931.15 L842.88,931.15 L843.69,931.15 L844.49,931.15" fill="none" stroke="#fa0f0f" stroke-width="2.0" stroke-linejoin="round"/>
<line x1="113.30" y1="931.15" x2="122.10" y2="931.15" stroke="#000" stroke-width="1.9" stroke-linecap="butt"/>
<line x1="113.30" y1="874.37" x2="122.10" y2="874.37" stroke="#000" stroke-width="1.9" stroke-linecap="butt"/>
<line x1="113.30" y1="817.59" x2="122.10" y2="817.59" stroke="#000" stroke-width="1.9" stroke-linecap="butt"/>
<line x1="113.30" y1="760.81" x2="122.10" y2="760.81" stroke="#000" stroke-width="1.9" stroke-linecap="butt"/>
<line x1="117.50" y1="902.76" x2="122.10" y2="902.76" stroke="#000" stroke-width="1.9" stroke-linecap="butt"/>
<line x1="117.50" y1="845.98" x2="122.10" y2="845.98" stroke="#000" stroke-width="1.9" stroke-linecap="butt"/>
<line x1="117.50" y1="789.20" x2="122.10" y2="789.20" stroke="#000" stroke-width="1.9" stroke-linecap="butt"/>
<line x1="117.50" y1="732.42" x2="122.10" y2="732.42" stroke="#000" stroke-width="1.9" stroke-linecap="butt"/>
<line x1="173.43" y1="942.30" x2="173.43" y2="951.30" stroke="#000" stroke-width="1.9" stroke-linecap="butt"/>
<line x1="276.67" y1="942.30" x2="276.67" y2="951.30" stroke="#000" stroke-width="1.9" stroke-linecap="butt"/>
<line x1="379.91" y1="942.30" x2="379.91" y2="951.30" stroke="#000" stroke-width="1.9" stroke-linecap="butt"/>
<line x1="483.15" y1="942.30" x2="483.15" y2="951.30" stroke="#000" stroke-width="1.9" stroke-linecap="butt"/>
<line x1="586.39" y1="942.30" x2="586.39" y2="951.30" stroke="#000" stroke-width="1.9" stroke-linecap="butt"/>
<line x1="689.63" y1="942.30" x2="689.63" y2="951.30" stroke="#000" stroke-width="1.9" stroke-linecap="butt"/>
<line x1="792.87" y1="942.30" x2="792.87" y2="951.30" stroke="#000" stroke-width="1.9" stroke-linecap="butt"/>
<line x1="121.81" y1="942.30" x2="121.81" y2="946.90" stroke="#000" stroke-width="1.9" stroke-linecap="butt"/>
<line x1="225.05" y1="942.30" x2="225.05" y2="946.90" stroke="#000" stroke-width="1.9" stroke-linecap="butt"/>
<line x1="328.29" y1="942.30" x2="328.29" y2="946.90" stroke="#000" stroke-width="1.9" stroke-linecap="butt"/>
<line x1="431.53" y1="942.30" x2="431.53" y2="946.90" stroke="#000" stroke-width="1.9" stroke-linecap="butt"/>
<line x1="534.77" y1="942.30" x2="534.77" y2="946.90" stroke="#000" stroke-width="1.9" stroke-linecap="butt"/>
<line x1="638.01" y1="942.30" x2="638.01" y2="946.90" stroke="#000" stroke-width="1.9" stroke-linecap="butt"/>
<line x1="741.25" y1="942.30" x2="741.25" y2="946.90" stroke="#000" stroke-width="1.9" stroke-linecap="butt"/>
<line x1="844.49" y1="942.30" x2="844.49" y2="946.90" stroke="#000" stroke-width="1.9" stroke-linecap="butt"/>
<circle cx="452.7" cy="831.1" r="4.45" fill="#000"/>
<circle cx="513.5" cy="831.1" r="4.45" fill="#000"/>
<line x1="383.00" y1="831.10" x2="431.10" y2="831.10" stroke="#000" stroke-width="1.3" stroke-linecap="butt"/>
<polygon points="444.30,831.10 425.60,837.20 431.10,831.10 425.60,825.00" fill="#000"/>
<line x1="579.10" y1="831.00" x2="536.10" y2="831.00" stroke="#000" stroke-width="1.3" stroke-linecap="butt"/>
<polygon points="522.90,831.00 541.60,824.90 536.10,831.00 541.60,837.10" fill="#000"/>
</g>
<g id="panel-d">
<line x1="122.45" y1="1020.85" x2="122.45" y2="1260.20" stroke="#000" stroke-width="2.1" stroke-linecap="butt"/>
<line x1="845.00" y1="1020.85" x2="845.00" y2="1260.20" stroke="#000" stroke-width="2.1" stroke-linecap="butt"/>
<line x1="122.45" y1="1021.90" x2="846.05" y2="1021.90" stroke="#000" stroke-width="2.1" stroke-linecap="butt"/>
<line x1="121.40" y1="1259.15" x2="846.05" y2="1259.15" stroke="#000" stroke-width="2.1" stroke-linecap="butt"/>
<path d="M122.40,1243.35 L123.20,1243.35 L124.01,1243.35 L124.81,1243.35 L125.61,1243.35 L126.41,1243.35 L127.22,1243.35 L128.02,1243.35 L128.82,1243.35 L129.62,1243.35 L130.43,1243.35 L131.23,1243.35 L132.03,1243.35 L132.83,1243.35 L133.64,1243.35 L134.44,1243.35 L135.24,1243.35 L136.05,1243.35 L136.85,1243.35 L137.65,1243.35 L138.45,1243.35 L139.26,1243.35 L140.06,1243.35 L140.86,1243.35 L141.66,1243.35 L142.47,1243.35 L143.27,1243.35 L144.07,1243.35 L144.87,1243.35 L145.68,1243.35 L146.48,1243.35 L147.28,1243.35 L148.09,1243.35 L148.89,1243.35 L149.69,1243.35 L150.49,1243.35 L151.30,1243.35 L152.10,1243.35 L152.90,1243.35 L153.70,1243.35 L154.51,1243.35 L155.31,1243.35 L156.11,1243.35 L156.91,1243.35 L157.72,1243.35 L158.52,1243.35 L159.32,1243.35 L160.13,1243.35 L160.93,1243.35 L161.73,1243.35 L162.53,1243.35 L163.34,1243.35 L164.14,1243.35 L164.94,1243.35 L165.74,1243.35 L166.55,1243.35 L167.35,1243.35 L168.15,1243.35 L168.95,1243.35 L169.76,1243.35 L170.56,1243.35 L171.36,1243.35 L172.17,1243.35 L172.97,1243.35 L173.77,1243.35 L174.57,1243.35 L175.38,1243.35 L176.18,1243.35 L176.98,1243.35 L177.78,1243.35 L178.59,1243.35 L179.39,1243.35 L180.19,1243.35 L180.99,1243.35 L181.80,1243.35 L182.60,1243.35 L183.40,1243.35 L184.21,1243.35 L185.01,1243.35 L185.81,1243.35 L186.61,1243.35 L187.42,1243.35 L188.22,1243.35 L189.02,1243.35 L189.82,1243.35 L190.63,1243.35 L191.43,1243.35 L192.23,1243.35 L193.03,1243.35 L193.84,1243.35 L194.64,1243.35 L195.44,1243.35 L196.25,1243.35 L197.05,1243.35 L197.85,1243.35 L198.65,1243.35 L199.46,1243.35 L200.26,1243.35 L201.06,1243.35 L201.86,1243.35 L202.67,1243.35 L203.47,1243.35 L204.27,1243.35 L205.07,1243.35 L205.88,1243.35 L206.68,1243.35 L207.48,1243.35 L208.29,1243.35 L209.09,1243.35 L209.89,1243.35 L210.69,1243.35 L211.50,1243.35 L212.30,1243.35 L213.10,1243.35 L213.90,1243.35 L214.71,1243.35 L215.51,1243.35 L216.31,1243.35 L217.11,1243.35 L217.92,1243.35 L218.72,1243.35 L219.52,1243.35 L220.33,1243.35 L221.13,1243.35 L221.93,1243.35 L222.73,1243.35 L223.54,1243.35 L224.34,1243.35 L225.14,1243.35 L225.94,1243.35 L226.75,1243.35 L227.55,1243.35 L228.35,1243.35 L229.15,1243.35 L229.96,1243.35 L230.76,1243.35 L231.56,1243.35 L232.37,1243.35 L233.17,1243.35 L233.97,1243.35 L234.77,1243.35 L235.58,1243.35 L236.38,1243.35 L237.18,1243.35 L237.98,1243.35 L238.79,1243.35 L239.59,1243.35 L240.39,1243.35 L241.19,1243.35 L242.00,1243.35 L242.80,1243.35 L243.60,1243.35 L244.41,1243.35 L245.21,1243.35 L246.01,1243.35 L246.81,1243.35 L247.62,1243.35 L248.42,1243.35 L249.22,1243.35 L250.02,1243.35 L250.83,1243.35 L251.63,1243.35 L252.43,1243.35 L253.23,1243.35 L254.04,1243.35 L254.84,1243.35 L255.64,1243.35 L256.45,1243.35 L257.25,1243.35 L258.05,1243.35 L258.85,1243.35 L259.66,1243.35 L260.46,1243.35 L261.26,1243.35 L262.06,1243.35 L262.87,1243.35 L263.67,1243.35 L264.47,1243.35 L265.27,1243.35 L266.08,1243.35 L266.88,1243.35 L267.68,1243.35 L268.49,1243.35 L269.29,1243.35 L270.09,1243.35 L270.89,1243.35 L271.70,1243.35 L272.50,1243.35 L273.30,1243.35 L274.10,1243.35 L274.91,1243.35 L275.71,1243.35 L276.51,1243.35 L277.31,1243.35 L278.12,1243.35 L278.92,1243.35 L279.72,1243.35 L280.53,1243.35 L281.33,1243.35 L282.13,1243.35 L282.93,1243.35 L283.74,1243.35 L284.54,1243.35 L285.34,1243.35 L286.14,1243.35 L286.95,1243.35 L287.75,1243.35 L288.55,1243.35 L289.35,1243.35 L290.16,1243.35 L290.96,1243.35 L291.76,1243.35 L292.57,1243.35 L293.37,1243.35 L294.17,1243.35 L294.97,1243.35 L295.78,1243.35 L296.58,1243.35 L297.38,1243.35 L298.18,1243.35 L298.99,1243.35 L299.79,1243.35 L300.59,1243.35 L301.39,1243.35 L302.20,1243.35 L303.00,1243.35 L303.80,1243.35 L304.61,1243.35 L305.41,1243.35 L306.21,1243.35 L307.01,1243.35 L307.82,1243.35 L308.62,1243.35 L309.42,1243.35 L310.22,1243.35 L311.03,1243.35 L311.83,1243.35 L312.63,1243.35 L313.43,1243.35 L314.24,1243.35 L315.04,1243.35 L315.84,1243.35 L316.65,1243.35 L317.45,1243.35 L318.25,1243.35 L319.05,1243.35 L319.86,1243.35 L320.66,1243.35 L321.46,1243.35 L322.26,1243.35 L323.07,1243.35 L323.87,1243.35 L324.67,1243.35 L325.47,1243.35 L326.28,1243.35 L327.08,1243.35 L327.88,1243.35 L328.69,1243.35 L329.49,1243.35 L330.29,1243.35 L331.09,1243.35 L331.90,1243.35 L332.70,1243.35 L333.50,1243.35 L334.30,1243.35 L335.11,1243.35 L335.91,1243.35 L336.71,1243.35 L337.51,1243.35 L338.32,1243.35 L339.12,1243.35 L339.92,1243.35 L340.73,1243.35 L341.53,1243.35 L342.33,1243.35 L343.13,1243.35 L343.94,1243.35 L344.74,1243.35 L345.54,1243.35 L346.34,1243.35 L347.15,1243.35 L347.95,1243.35 L348.75,1243.35 L349.55,1243.35 L350.36,1243.35 L351.16,1243.35 L351.96,1243.35 L352.77,1243.35 L353.57,1243.35 L354.37,1243.35 L355.17,1243.35 L355.98,1243.35 L356.78,1243.35 L357.58,1243.35 L358.38,1243.35 L359.19,1243.35 L359.99,1243.35 L360.79,1243.35 L361.59,1243.35 L362.40,1243.35 L363.20,1243.35 L364.00,1243.35 L364.81,1243.35 L365.61,1243.35 L366.41,1243.36 L367.21,1243.36 L368.02,1243.36 L368.82,1243.37 L369.62,1243.37 L370.42,1243.38 L371.23,1243.39 L372.03,1243.40 L372.83,1243.41 L373.63,1243.42 L374.44,1243.43 L375.24,1243.45 L376.04,1243.47 L376.85,1243.48 L377.65,1243.51 L378.45,1243.53 L379.25,1243.55 L380.06,1243.58 L380.86,1243.61 L381.66,1243.64 L382.46,1243.68 L383.27,1243.71 L384.07,1243.75 L384.87,1243.79 L385.67,1243.83 L386.48,1243.87 L387.28,1243.91 L388.08,1243.95 L388.89,1243.99 L389.69,1244.03 L390.49,1244.07 L391.29,1244.10 L392.10,1244.13 L392.90,1244.15 L393.70,1244.16 L394.50,1244.17 L395.31,1244.17 L396.11,1244.15 L396.91,1244.13 L397.71,1244.08 L398.52,1244.03 L399.32,1243.95 L400.12,1243.86 L400.93,1243.74 L401.73,1243.60 L402.53,1243.44 L403.33,1243.25 L404.14,1243.03 L404.94,1242.78 L405.74,1242.50 L406.54,1242.18 L407.35,1241.83 L408.15,1241.45 L408.95,1241.02 L409.75,1240.55 L410.56,1240.06 L411.36,1239.53 L412.16,1238.97 L412.97,1238.37 L413.77,1237.74 L414.57,1237.08 L415.37,1236.37 L416.18,1235.62 L416.98,1234.83 L417.78,1234.00 L418.58,1233.12 L419.39,1232.20 L420.19,1231.22 L420.99,1230.20 L421.79,1229.13 L422.60,1228.00 L423.40,1226.82 L424.20,1225.58 L425.01,1224.29 L425.81,1222.94 L426.61,1221.52 L427.41,1220.05 L428.22,1218.51 L429.02,1216.92 L429.82,1215.25 L430.62,1213.53 L431.43,1211.73 L432.23,1209.87 L433.03,1207.95 L433.83,1205.96 L434.64,1203.90 L435.44,1201.77 L436.24,1199.58 L437.05,1197.32 L437.85,1195.00 L438.65,1192.61 L439.45,1190.16 L440.26,1187.64 L441.06,1185.06 L441.86,1182.42 L442.66,1179.72 L443.47,1176.97 L444.27,1174.16 L445.07,1171.30 L445.87,1168.38 L446.68,1165.42 L447.48,1162.42 L448.28,1159.38 L449.09,1156.30 L449.89,1153.18 L450.69,1150.04 L451.49,1146.87 L452.30,1143.68 L453.10,1140.47 L453.90,1137.25 L454.70,1134.03 L455.51,1130.80 L456.31,1127.57 L457.11,1124.35 L457.91,1121.14 L458.72,1117.96 L459.52,1114.79 L460.32,1111.66 L461.13,1108.57 L461.93,1105.51 L462.73,1102.50 L463.53,1099.55 L464.34,1096.65 L465.14,1093.82 L465.94,1091.06 L466.74,1088.38 L467.55,1085.77 L468.35,1083.26 L469.15,1080.84 L469.95,1078.51 L470.76,1076.29 L471.56,1074.18 L472.36,1072.18 L473.17,1070.30 L473.97,1068.53 L474.77,1066.90 L475.57,1065.39 L476.38,1064.02 L477.18,1062.78 L477.98,1061.68 L478.78,1060.72 L479.59,1059.90 L480.39,1059.24 L481.19,1058.71 L481.99,1058.34 L482.80,1058.11 L483.60,1058.04 L484.40,1058.11 L485.21,1058.34 L486.01,1058.71 L486.81,1059.24 L487.61,1059.90 L488.42,1060.72 L489.22,1061.68 L490.02,1062.78 L490.82,1064.02 L491.63,1065.39 L492.43,1066.90 L493.23,1068.53 L494.03,1070.30 L494.84,1072.18 L495.64,1074.18 L496.44,1076.29 L497.25,1078.51 L498.05,1080.84 L498.85,1083.26 L499.65,1085.77 L500.46,1088.38 L501.26,1091.06 L502.06,1093.82 L502.86,1096.65 L503.67,1099.55 L504.47,1102.50 L505.27,1105.51 L506.07,1108.57 L506.88,1111.66 L507.68,1114.79 L508.48,1117.96 L509.29,1121.14 L510.09,1124.35 L510.89,1127.57 L511.69,1130.80 L512.50,1134.03 L513.30,1137.25 L514.10,1140.47 L514.90,1143.68 L515.71,1146.87 L516.51,1150.04 L517.31,1153.18 L518.11,1156.30 L518.92,1159.38 L519.72,1162.42 L520.52,1165.42 L521.33,1168.38 L522.13,1171.30 L522.93,1174.16 L523.73,1176.97 L524.54,1179.72 L525.34,1182.42 L526.14,1185.06 L526.94,1187.64 L527.75,1190.16 L528.55,1192.61 L529.35,1195.00 L530.15,1197.32 L530.96,1199.58 L531.76,1201.77 L532.56,1203.90 L533.37,1205.96 L534.17,1207.95 L534.97,1209.87 L535.77,1211.73 L536.58,1213.53 L537.38,1215.25 L538.18,1216.92 L538.98,1218.51 L539.79,1220.05 L540.59,1221.52 L541.39,1222.94 L542.19,1224.29 L543.00,1225.58 L543.80,1226.82 L544.60,1228.00 L545.41,1229.13 L546.21,1230.20 L547.01,1231.22 L547.81,1232.20 L548.62,1233.12 L549.42,1234.00 L550.22,1234.83 L551.02,1235.62 L551.83,1236.37 L552.63,1237.08 L553.43,1237.74 L554.23,1238.37 L555.04,1238.97 L555.84,1239.53 L556.64,1240.06 L557.45,1240.55 L558.25,1241.02 L559.05,1241.45 L559.85,1241.83 L560.66,1242.18 L561.46,1242.50 L562.26,1242.78 L563.06,1243.03 L563.87,1243.25 L564.67,1243.44 L565.47,1243.60 L566.27,1243.74 L567.08,1243.86 L567.88,1243.95 L568.68,1244.03 L569.49,1244.08 L570.29,1244.13 L571.09,1244.15 L571.89,1244.17 L572.70,1244.17 L573.50,1244.16 L574.30,1244.15 L575.10,1244.13 L575.91,1244.10 L576.71,1244.07 L577.51,1244.03 L578.31,1243.99 L579.12,1243.95 L579.92,1243.91 L580.72,1243.87 L581.53,1243.83 L582.33,1243.79 L583.13,1243.75 L583.93,1243.71 L584.74,1243.68 L585.54,1243.64 L586.34,1243.61 L587.14,1243.58 L587.95,1243.55 L588.75,1243.53 L589.55,1243.51 L590.35,1243.48 L591.16,1243.47 L591.96,1243.45 L592.76,1243.43 L593.57,1243.42 L594.37,1243.41 L595.17,1243.40 L595.97,1243.39 L596.78,1243.38 L597.58,1243.37 L598.38,1243.37 L599.18,1243.36 L599.99,1243.36 L600.79,1243.36 L601.59,1243.35 L602.39,1243.35 L603.20,1243.35 L604.00,1243.35 L604.80,1243.35 L605.61,1243.35 L606.41,1243.35 L607.21,1243.35 L608.01,1243.35 L608.82,1243.35 L609.62,1243.35 L610.42,1243.35 L611.22,1243.35 L612.03,1243.35 L612.83,1243.35 L613.63,1243.35 L614.43,1243.35 L615.24,1243.35 L616.04,1243.35 L616.84,1243.35 L617.65,1243.35 L618.45,1243.35 L619.25,1243.35 L620.05,1243.35 L620.86,1243.35 L621.66,1243.35 L622.46,1243.35 L623.26,1243.35 L624.07,1243.35 L624.87,1243.35 L625.67,1243.35 L626.47,1243.35 L627.28,1243.35 L628.08,1243.35 L628.88,1243.35 L629.69,1243.35 L630.49,1243.35 L631.29,1243.35 L632.09,1243.35 L632.90,1243.35 L633.70,1243.35 L634.50,1243.35 L635.30,1243.35 L636.11,1243.35 L636.91,1243.35 L637.71,1243.35 L638.51,1243.35 L639.32,1243.35 L640.12,1243.35 L640.92,1243.35 L641.73,1243.35 L642.53,1243.35 L643.33,1243.35 L644.13,1243.35 L644.94,1243.35 L645.74,1243.35 L646.54,1243.35 L647.34,1243.35 L648.15,1243.35 L648.95,1243.35 L649.75,1243.35 L650.55,1243.35 L651.36,1243.35 L652.16,1243.35 L652.96,1243.35 L653.77,1243.35 L654.57,1243.35 L655.37,1243.35 L656.17,1243.35 L656.98,1243.35 L657.78,1243.35 L658.58,1243.35 L659.38,1243.35 L660.19,1243.35 L660.99,1243.35 L661.79,1243.35 L662.59,1243.35 L663.40,1243.35 L664.20,1243.35 L665.00,1243.35 L665.81,1243.35 L666.61,1243.35 L667.41,1243.35 L668.21,1243.35 L669.02,1243.35 L669.82,1243.35 L670.62,1243.35 L671.42,1243.35 L672.23,1243.35 L673.03,1243.35 L673.83,1243.35 L674.63,1243.35 L675.44,1243.35 L676.24,1243.35 L677.04,1243.35 L677.85,1243.35 L678.65,1243.35 L679.45,1243.35 L680.25,1243.35 L681.06,1243.35 L681.86,1243.35 L682.66,1243.35 L683.46,1243.35 L684.27,1243.35 L685.07,1243.35 L685.87,1243.35 L686.67,1243.35 L687.48,1243.35 L688.28,1243.35 L689.08,1243.35 L689.89,1243.35 L690.69,1243.35 L691.49,1243.35 L692.29,1243.35 L693.10,1243.35 L693.90,1243.35 L694.70,1243.35 L695.50,1243.35 L696.31,1243.35 L697.11,1243.35 L697.91,1243.35 L698.71,1243.35 L699.52,1243.35 L700.32,1243.35 L701.12,1243.35 L701.93,1243.35 L702.73,1243.35 L703.53,1243.35 L704.33,1243.35 L705.14,1243.35 L705.94,1243.35 L706.74,1243.35 L707.54,1243.35 L708.35,1243.35 L709.15,1243.35 L709.95,1243.35 L710.75,1243.35 L711.56,1243.35 L712.36,1243.35 L713.16,1243.35 L713.97,1243.35 L714.77,1243.35 L715.57,1243.35 L716.37,1243.35 L717.18,1243.35 L717.98,1243.35 L718.78,1243.35 L719.58,1243.35 L720.39,1243.35 L721.19,1243.35 L721.99,1243.35 L722.79,1243.35 L723.60,1243.35 L724.40,1243.35 L725.20,1243.35 L726.01,1243.35 L726.81,1243.35 L727.61,1243.35 L728.41,1243.35 L729.22,1243.35 L730.02,1243.35 L730.82,1243.35 L731.62,1243.35 L732.43,1243.35 L733.23,1243.35 L734.03,1243.35 L734.83,1243.35 L735.64,1243.35 L736.44,1243.35 L737.24,1243.35 L738.05,1243.35 L738.85,1243.35 L739.65,1243.35 L740.45,1243.35 L741.26,1243.35 L742.06,1243.35 L742.86,1243.35 L743.66,1243.35 L744.47,1243.35 L745.27,1243.35 L746.07,1243.35 L746.87,1243.35 L747.68,1243.35 L748.48,1243.35 L749.28,1243.35 L750.09,1243.35 L750.89,1243.35 L751.69,1243.35 L752.49,1243.35 L753.30,1243.35 L754.10,1243.35 L754.90,1243.35 L755.70,1243.35 L756.51,1243.35 L757.31,1243.35 L758.11,1243.35 L758.91,1243.35 L759.72,1243.35 L760.52,1243.35 L761.32,1243.35 L762.13,1243.35 L762.93,1243.35 L763.73,1243.35 L764.53,1243.35 L765.34,1243.35 L766.14,1243.35 L766.94,1243.35 L767.74,1243.35 L768.55,1243.35 L769.35,1243.35 L770.15,1243.35 L770.95,1243.35 L771.76,1243.35 L772.56,1243.35 L773.36,1243.35 L774.17,1243.35 L774.97,1243.35 L775.77,1243.35 L776.57,1243.35 L777.38,1243.35 L778.18,1243.35 L778.98,1243.35 L779.78,1243.35 L780.59,1243.35 L781.39,1243.35 L782.19,1243.35 L782.99,1243.35 L783.80,1243.35 L784.60,1243.35 L785.40,1243.35 L786.21,1243.35 L787.01,1243.35 L787.81,1243.35 L788.61,1243.35 L789.42,1243.35 L790.22,1243.35 L791.02,1243.35 L791.82,1243.35 L792.63,1243.35 L793.43,1243.35 L794.23,1243.35 L795.03,1243.35 L795.84,1243.35 L796.64,1243.35 L797.44,1243.35 L798.25,1243.35 L799.05,1243.35 L799.85,1243.35 L800.65,1243.35 L801.46,1243.35 L802.26,1243.35 L803.06,1243.35 L803.86,1243.35 L804.67,1243.35 L805.47,1243.35 L806.27,1243.35 L807.07,1243.35 L807.88,1243.35 L808.68,1243.35 L809.48,1243.35 L810.29,1243.35 L811.09,1243.35 L811.89,1243.35 L812.69,1243.35 L813.50,1243.35 L814.30,1243.35 L815.10,1243.35 L815.90,1243.35 L816.71,1243.35 L817.51,1243.35 L818.31,1243.35 L819.11,1243.35 L819.92,1243.35 L820.72,1243.35 L821.52,1243.35 L822.33,1243.35 L823.13,1243.35 L823.93,1243.35 L824.73,1243.35 L825.54,1243.35 L826.34,1243.35 L827.14,1243.35 L827.94,1243.35 L828.75,1243.35 L829.55,1243.35 L830.35,1243.35 L831.15,1243.35 L831.96,1243.35 L832.76,1243.35 L833.56,1243.35 L834.37,1243.35 L835.17,1243.35 L835.97,1243.35 L836.77,1243.35 L837.58,1243.35 L838.38,1243.35 L839.18,1243.35 L839.98,1243.35 L840.79,1243.35 L841.59,1243.35 L842.39,1243.35 L843.19,1243.35 L844.00,1243.35 L844.80,1243.35" fill="none" stroke="#1d3595" stroke-width="2.7" stroke-linejoin="round"/>
<line x1="114.35" y1="1243.35" x2="122.45" y2="1243.35" stroke="#000" stroke-width="1.9" stroke-linecap="butt"/>
<line x1="114.35" y1="1180.05" x2="122.45" y2="1180.05" stroke="#000" stroke-width="1.9" stroke-linecap="butt"/>
<line x1="114.35" y1="1116.75" x2="122.45" y2="1116.75" stroke="#000" stroke-width="1.9" stroke-linecap="butt"/>
<line x1="114.35" y1="1053.45" x2="122.45" y2="1053.45" stroke="#000" stroke-width="1.9" stroke-linecap="butt"/>
<line x1="117.85" y1="1211.70" x2="122.45" y2="1211.70" stroke="#000" stroke-width="1.9" stroke-linecap="butt"/>
<line x1="117.85" y1="1148.40" x2="122.45" y2="1148.40" stroke="#000" stroke-width="1.9" stroke-linecap="butt"/>
<line x1="117.85" y1="1085.10" x2="122.45" y2="1085.10" stroke="#000" stroke-width="1.9" stroke-linecap="butt"/>
<line x1="117.85" y1="1021.80" x2="122.45" y2="1021.80" stroke="#000" stroke-width="1.9" stroke-linecap="butt"/>
<line x1="174.00" y1="1259.15" x2="174.00" y2="1268.15" stroke="#000" stroke-width="1.9" stroke-linecap="butt"/>
<line x1="277.20" y1="1259.15" x2="277.20" y2="1268.15" stroke="#000" stroke-width="1.9" stroke-linecap="butt"/>
<line x1="380.40" y1="1259.15" x2="380.40" y2="1268.15" stroke="#000" stroke-width="1.9" stroke-linecap="butt"/>
<line x1="483.60" y1="1259.15" x2="483.60" y2="1268.15" stroke="#000" stroke-width="1.9" stroke-linecap="butt"/>
<line x1="586.80" y1="1259.15" x2="586.80" y2="1268.15" stroke="#000" stroke-width="1.9" stroke-linecap="butt"/>
<line x1="690.00" y1="1259.15" x2="690.00" y2="1268.15" stroke="#000" stroke-width="1.9" stroke-linecap="butt"/>
<line x1="793.20" y1="1259.15" x2="793.20" y2="1268.15" stroke="#000" stroke-width="1.9" stroke-linecap="butt"/>
<line x1="122.40" y1="1259.15" x2="122.40" y2="1263.75" stroke="#000" stroke-width="1.9" stroke-linecap="butt"/>
<line x1="225.60" y1="1259.15" x2="225.60" y2="1263.75" stroke="#000" stroke-width="1.9" stroke-linecap="butt"/>
<line x1="328.80" y1="1259.15" x2="328.80" y2="1263.75" stroke="#000" stroke-width="1.9" stroke-linecap="butt"/>
<line x1="432.00" y1="1259.15" x2="432.00" y2="1263.75" stroke="#000" stroke-width="1.9" stroke-linecap="butt"/>
<line x1="535.20" y1="1259.15" x2="535.20" y2="1263.75" stroke="#000" stroke-width="1.9" stroke-linecap="butt"/>
<line x1="638.40" y1="1259.15" x2="638.40" y2="1263.75" stroke="#000" stroke-width="1.9" stroke-linecap="butt"/>
<line x1="741.60" y1="1259.15" x2="741.60" y2="1263.75" stroke="#000" stroke-width="1.9" stroke-linecap="butt"/>
<line x1="844.80" y1="1259.15" x2="844.80" y2="1263.75" stroke="#000" stroke-width="1.9" stroke-linecap="butt"/>
<circle cx="450.5" cy="1150.2" r="4.45" fill="#000"/>
<circle cx="516.7" cy="1150.2" r="4.45" fill="#000"/>
<line x1="379.00" y1="1149.40" x2="426.90" y2="1149.40" stroke="#000" stroke-width="1.3" stroke-linecap="butt"/>
<polygon points="440.10,1149.40 421.40,1155.50 426.90,1149.40 421.40,1143.30" fill="#000"/>
<line x1="583.50" y1="1149.40" x2="540.90" y2="1149.40" stroke="#000" stroke-width="1.3" stroke-linecap="butt"/>
<polygon points="527.70,1149.40 546.40,1143.30 540.90,1149.40 546.40,1155.50" fill="#000"/>
</g>
<g id="annot">
<line x1="525.70" y1="25.65" x2="482.40" y2="25.65" stroke="#000" stroke-width="1.3" stroke-linecap="butt"/>
<polygon points="469.20,25.65 487.90,19.55 482.40,25.65 487.90,31.75" fill="#000"/>
<line x1="231.60" y1="159.00" x2="251.18" y2="196.75" stroke="#000" stroke-width="1.3" stroke-linecap="butt"/>
<polygon points="257.25,208.47 243.23,194.67 251.18,196.75 254.06,189.06" fill="#000"/>
<line x1="533.80" y1="353.80" x2="490.70" y2="353.80" stroke="#000" stroke-width="1.3" stroke-linecap="butt"/>
<polygon points="477.50,353.80 496.20,347.70 490.70,353.80 496.20,359.90" fill="#000"/>
</g>
<g id="labels">
<text transform="translate(103.90,180.30) scale(0.9000,1)" font-family='"Liberation Sans", sans-serif' font-size="32.5" text-anchor="end" fill="#000" letter-spacing="-1.05">1000</text>
<text transform="translate(103.90,112.45) scale(0.9000,1)" font-family='"Liberation Sans", sans-serif' font-size="32.5" text-anchor="end" fill="#000" letter-spacing="-1.05">2000</text>
<text transform="translate(103.90,44.60) scale(0.9000,1)" font-family='"Liberation Sans", sans-serif' font-size="32.5" text-anchor="end" fill="#000" letter-spacing="-1.05">3000</text>
<text transform="translate(108.60,248.25) scale(0.9000,1)" font-family='"Liberation Sans", sans-serif' font-size="32.5" text-anchor="end" fill="#000" letter-spacing="-1.05">0</text>
<text transform="translate(120.60,276.10) scale(0.9000,1)" font-family='"Liberation Sans", sans-serif' font-size="32.5" text-anchor="middle" fill="#000" letter-spacing="-1.05">0</text>
<text transform="translate(290.60,276.10) scale(0.9000,1)" font-family='"Liberation Sans", sans-serif' font-size="32.5" text-anchor="middle" fill="#000" letter-spacing="-1.05">2</text>
<text transform="translate(460.60,276.10) scale(0.9000,1)" font-family='"Liberation Sans", sans-serif' font-size="32.5" text-anchor="middle" fill="#000" letter-spacing="-1.05">4</text>
<text transform="translate(630.60,276.10) scale(0.9000,1)" font-family='"Liberation Sans", sans-serif' font-size="32.5" text-anchor="middle" fill="#000" letter-spacing="-1.05">6</text>
<text transform="translate(800.60,276.10) scale(0.9000,1)" font-family='"Liberation Sans", sans-serif' font-size="32.5" text-anchor="middle" fill="#000" letter-spacing="-1.05">8</text>
<text transform="translate(106.10,491.37) scale(0.9000,1)" font-family='"Liberation Sans", sans-serif' font-size="32.5" text-anchor="end" fill="#000" letter-spacing="-1.05">400</text>
<text transform="translate(106.10,415.43) scale(0.9000,1)" font-family='"Liberation Sans", sans-serif' font-size="32.5" text-anchor="end" fill="#000" letter-spacing="-1.05">800</text>
<text transform="translate(107.50,339.50) scale(0.9000,1)" font-family='"Liberation Sans", sans-serif' font-size="32.5" text-anchor="end" fill="#000" letter-spacing="-1.05">1200</text>
<text transform="translate(103.90,567.10) scale(0.9000,1)" font-family='"Liberation Sans", sans-serif' font-size="32.5" text-anchor="end" fill="#000" letter-spacing="-1.05">0</text>
<text transform="translate(122.50,596.90) scale(0.9000,1)" font-family='"Liberation Sans", sans-serif' font-size="32.5" text-anchor="middle" fill="#000" letter-spacing="-1.05">0</text>
<text transform="translate(292.50,596.90) scale(0.9000,1)" font-family='"Liberation Sans", sans-serif' font-size="32.5" text-anchor="middle" fill="#000" letter-spacing="-1.05">2</text>
<text transform="translate(462.50,596.90) scale(0.9000,1)" font-family='"Liberation Sans", sans-serif' font-size="32.5" text-anchor="middle" fill="#000" letter-spacing="-1.05">4</text>
<text transform="translate(632.50,596.90) scale(0.9000,1)" font-family='"Liberation Sans", sans-serif' font-size="32.5" text-anchor="middle" fill="#000" letter-spacing="-1.05">6</text>
<text transform="translate(802.50,596.90) scale(0.9000,1)" font-family='"Liberation Sans", sans-serif' font-size="32.5" text-anchor="middle" fill="#000" letter-spacing="-1.05">8</text>
<text transform="translate(107.90,825.54) scale(0.9000,1)" font-family='"Liberation Sans", sans-serif' font-size="32.5" text-anchor="end" fill="#000" letter-spacing="-1.05">1000</text>
<text transform="translate(107.90,768.76) scale(0.9000,1)" font-family='"Liberation Sans", sans-serif' font-size="32.5" text-anchor="end" fill="#000" letter-spacing="-1.05">1500</text>
<text transform="translate(107.40,882.92) scale(0.9000,1)" font-family='"Liberation Sans", sans-serif' font-size="32.5" text-anchor="end" fill="#000" letter-spacing="-1.05">500</text>
<text transform="translate(107.90,712.90) scale(0.9000,1)" font-family='"Liberation Sans", sans-serif' font-size="32.5" text-anchor="end" fill="#000" letter-spacing="-1.05">2000</text>
<text transform="translate(103.90,939.15) scale(0.9000,1)" font-family='"Liberation Sans", sans-serif' font-size="32.5" text-anchor="end" fill="#000" letter-spacing="-1.05">0</text>
<text transform="translate(174.73,979.80) scale(0.9000,1)" font-family='"Liberation Sans", sans-serif' font-size="32.5" text-anchor="middle" fill="#000" letter-spacing="-1.05">-3</text>
<text transform="translate(277.97,979.80) scale(0.9000,1)" font-family='"Liberation Sans", sans-serif' font-size="32.5" text-anchor="middle" fill="#000" letter-spacing="-1.05">-2</text>
<text transform="translate(381.21,979.80) scale(0.9000,1)" font-family='"Liberation Sans", sans-serif' font-size="32.5" text-anchor="middle" fill="#000" letter-spacing="-1.05">-1</text>
<text transform="translate(484.45,979.80) scale(0.9000,1)" font-family='"Liberation Sans", sans-serif' font-size="32.5" text-anchor="middle" fill="#000" letter-spacing="-1.05">0</text>
<text transform="translate(587.69,979.80) scale(0.9000,1)" font-family='"Liberation Sans", sans-serif' font-size="32.5" text-anchor="middle" fill="#000" letter-spacing="-1.05">1</text>
<text transform="translate(690.93,979.80) scale(0.9000,1)" font-family='"Liberation Sans", sans-serif' font-size="32.5" text-anchor="middle" fill="#000" letter-spacing="-1.05">2</text>
<text transform="translate(794.17,979.80) scale(0.9000,1)" font-family='"Liberation Sans", sans-serif' font-size="32.5" text-anchor="middle" fill="#000" letter-spacing="-1.05">3</text>
<text transform="translate(106.60,1190.05) scale(0.9000,1)" font-family='"Liberation Sans", sans-serif' font-size="32.5" text-anchor="end" fill="#000" letter-spacing="-1.05">200</text>
<text transform="translate(106.60,1126.75) scale(0.9000,1)" font-family='"Liberation Sans", sans-serif' font-size="32.5" text-anchor="end" fill="#000" letter-spacing="-1.05">400</text>
<text transform="translate(106.60,1063.45) scale(0.9000,1)" font-family='"Liberation Sans", sans-serif' font-size="32.5" text-anchor="end" fill="#000" letter-spacing="-1.05">600</text>
<text transform="translate(109.90,1251.95) scale(0.9000,1)" font-family='"Liberation Sans", sans-serif' font-size="32.5" text-anchor="end" fill="#000" letter-spacing="-1.05">0</text>
<text transform="translate(175.50,1298.80) scale(0.9000,1)" font-family='"Liberation Sans", sans-serif' font-size="32.5" text-anchor="middle" fill="#000" letter-spacing="-1.05">-3</text>
<text transform="translate(278.70,1298.80) scale(0.9000,1)" font-family='"Liberation Sans", sans-serif' font-size="32.5" text-anchor="middle" fill="#000" letter-spacing="-1.05">-2</text>
<text transform="translate(381.90,1298.80) scale(0.9000,1)" font-family='"Liberation Sans", sans-serif' font-size="32.5" text-anchor="middle" fill="#000" letter-spacing="-1.05">-1</text>
<text transform="translate(485.10,1298.80) scale(0.9000,1)" font-family='"Liberation Sans", sans-serif' font-size="32.5" text-anchor="middle" fill="#000" letter-spacing="-1.05">0</text>
<text transform="translate(588.30,1298.80) scale(0.9000,1)" font-family='"Liberation Sans", sans-serif' font-size="32.5" text-anchor="middle" fill="#000" letter-spacing="-1.05">1</text>
<text transform="translate(691.50,1298.80) scale(0.9000,1)" font-family='"Liberation Sans", sans-serif' font-size="32.5" text-anchor="middle" fill="#000" letter-spacing="-1.05">2</text>
<text transform="translate(794.70,1298.80) scale(0.9000,1)" font-family='"Liberation Sans", sans-serif' font-size="32.5" text-anchor="middle" fill="#000" letter-spacing="-1.05">3</text>
<text transform="translate(129.60,51.10)" font-family='"Liberation Sans", sans-serif' font-size="51" text-anchor="start" fill="#000" letter-spacing="0.9">(a<tspan dx="1.2">)</tspan></text>
<text transform="translate(129.60,372.00)" font-family='"Liberation Sans", sans-serif' font-size="51" text-anchor="start" fill="#000" letter-spacing="0.9">(b<tspan dx="1.2">)</tspan></text>
<text transform="translate(129.60,755.60)" font-family='"Liberation Sans", sans-serif' font-size="51" text-anchor="start" fill="#000" letter-spacing="0.9">(c<tspan dx="1.2">)</tspan></text>
<text transform="translate(129.60,1070.70)" font-family='"Liberation Sans", sans-serif' font-size="51" text-anchor="start" fill="#000" letter-spacing="0.9">(d<tspan dx="1.2">)</tspan></text>
<text transform="translate(532.80,35.00) scale(1.0080,1)" font-family='"Liberation Sans", sans-serif' font-size="27.4" text-anchor="start" fill="#000" word-spacing="0.2">Peak 1</text>
<text transform="translate(185.80,152.00) scale(1.0080,1)" font-family='"Liberation Sans", sans-serif' font-size="27.4" text-anchor="start" fill="#000" word-spacing="0.2">Peak 3</text>
<text transform="translate(538.40,364.50) scale(1.0080,1)" font-family='"Liberation Sans", sans-serif' font-size="27.4" text-anchor="start" fill="#000" word-spacing="0.2">Peak 2</text>
<text transform="translate(25.60,0) rotate(-90) scale(0.97,1)" font-family='"Liberation Serif", serif' font-size="37.6" fill="#000" stroke="#000" stroke-width="0.45"><tspan x="-220.10" letter-spacing="-1.216">Counts</tspan> <tspan x="-112.50" letter-spacing="0.303">(1/s)</tspan></text>
<text transform="translate(25.60,0) rotate(-90) scale(0.97,1)" font-family='"Liberation Serif", serif' font-size="37.6" fill="#000" stroke="#000" stroke-width="0.45"><tspan x="-539.07" letter-spacing="-1.216">Counts</tspan> <tspan x="-431.47" letter-spacing="0.303">(1/s)</tspan></text>
<text transform="translate(28.90,0) rotate(-90) scale(0.97,1)" font-family='"Liberation Serif", serif' font-size="37.6" fill="#000" stroke="#000" stroke-width="0.45"><tspan x="-943.30" letter-spacing="-1.564">Derived</tspan> <tspan x="-826.06" letter-spacing="-1.732">counts</tspan></text>
<text transform="translate(28.90,0) rotate(-90) scale(0.97,1)" font-family='"Liberation Serif", serif' font-size="37.6" fill="#000" stroke="#000" stroke-width="0.45"><tspan x="-1278.14" letter-spacing="-1.564">Derived</tspan> <tspan x="-1160.90" letter-spacing="-1.732">counts</tspan></text>
<text transform="translate(0,1332.90) scale(0.97,1)" font-family='"Liberation Serif", serif' font-size="38.0" fill="#000" stroke="#000" stroke-width="0.45"><tspan x="368.35" letter-spacing="-0.164">Frequency</tspan> <tspan x="535.44" letter-spacing="0.135">(GHz)</tspan></text>
<text transform="translate(0,840.50) scale(1.0,1)" font-family='"Liberation Serif", serif' font-size="30.5" fill="#000" stroke="#000" stroke-width="0.45"><tspan x="589.42" letter-spacing="-1.675">FWHM</tspan> <tspan x="684.08" letter-spacing="0.000">=</tspan> <tspan x="707.05" letter-spacing="-0.887">590</tspan> <tspan x="755.83" letter-spacing="-2.100">MHz</tspan></text>
<text transform="translate(0,1159.60) scale(1.0,1)" font-family='"Liberation Serif", serif' font-size="30.5" fill="#000" stroke="#000" stroke-width="0.45"><tspan x="592.33" letter-spacing="-2.008">FWHM</tspan> <tspan x="686.38" letter-spacing="0.000">=</tspan> <tspan x="710.23" letter-spacing="-2.350">641</tspan> <tspan x="758.42" letter-spacing="-2.550">MHz</tspan></text>
<g id="xlabel-ab">
<text transform="translate(342.52,631.60) scale(1.0448,1)" font-family='"Liberation Serif", serif' font-size="40.51" text-anchor="start" fill="#000" stroke="#000" stroke-width="0.45">Δ</text>
<text transform="translate(370.65,646.20) scale(1.0711,1)" font-family='"Liberation Serif", serif' font-size="25.91" text-anchor="start" fill="#000" stroke="#000" stroke-width="0.45">2</text>
<text transform="translate(382.13,636.04) scale(1.0000,1)" font-family='"Liberation Serif", serif' font-size="43.38" text-anchor="start" fill="#000" stroke="#000" stroke-width="0.45">+</text>
<text transform="translate(410.88,631.60) scale(1.0100,1)" font-family='"Liberation Serif", serif' font-size="40.51" text-anchor="start" fill="#000" stroke="#000" stroke-width="0.45">Δ</text>
<text transform="translate(441.94,646.45) scale(0.9551,1)" font-family='"Liberation Sans", sans-serif' font-size="26.18" text-anchor="start" fill="#000" >3</text>
<text transform="translate(458.63,631.48) scale(1.0145,1)" font-family='"Liberation Serif", serif' font-size="36.44" text-anchor="start" fill="#000" stroke="#000" stroke-width="0.45">(</text>
<text transform="translate(469.67,631.80) scale(1.2034,1)" font-family='"Liberation Serif", serif' font-size="35.59" text-anchor="start" fill="#000" stroke="#000" stroke-width="0.45">2</text>
<text transform="translate(492.40,631.54) scale(1.0462,1)" font-family='"Liberation Serif", serif' font-size="34.56" text-anchor="start" fill="#000" stroke="#000" stroke-width="0.45">π</text>
<text transform="translate(513.24,633.67) scale(1.0000,1)" font-family='"Liberation Serif", serif' font-size="43.32" text-anchor="start" fill="#000" stroke="#000" stroke-width="0.45">×</text>
<text transform="translate(538.50,631.70)" font-family='"Liberation Serif", serif' font-size="36.3" text-anchor="start" fill="#000" letter-spacing="-2.100" stroke="#000" stroke-width="0.45">GHz</text>
<text transform="translate(603.10,631.48) scale(1.0573,1)" font-family='"Liberation Serif", serif' font-size="36.44" text-anchor="start" fill="#000" stroke="#000" stroke-width="0.45">)</text>
</g>
</g>
</svg>
</body></html>
